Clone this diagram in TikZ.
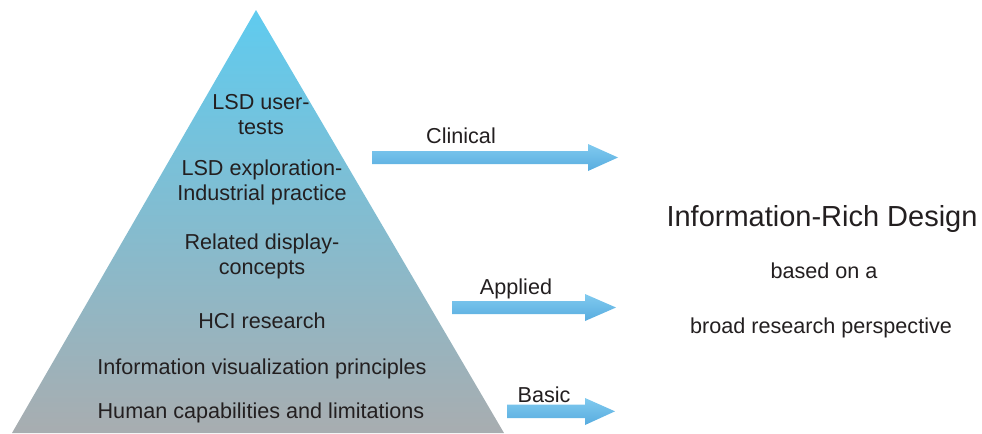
\documentclass[tikz,border=0pt]{standalone}
\usepackage{fontspec}
\setmainfont{Liberation Sans}
\definecolor{pyrtop}{HTML}{5FCBEF}
\definecolor{pyrbot}{HTML}{A8ADB0}
\definecolor{arrtop}{HTML}{80CAEF}
\definecolor{arrbot}{HTML}{58ACDF}
\definecolor{txt}{HTML}{231F20}
\tikzset{
  lbl/.style={font=\fontsize{12.3}{14.2}\selectfont, text=txt, align=center, inner sep=0pt},
  blockarrow/.style={top color=arrtop, bottom color=arrbot, draw=none}
}
\begin{document}
\begin{tikzpicture}[x=0.02cm,y=-0.02cm]
	\useasboundingbox (0,0) rectangle (982,433);
	% pyramid
	\shade[top color=pyrtop,bottom color=pyrbot] (256,10)--(504,433)--(12,433)--cycle;
	\node[lbl] (usertests) at (261,115) {LSD user-\\tests};
	\node[lbl] (explore) at (262,182) {LSD exploration-\\Industrial practice};
	\node[lbl] (related) at (262,256) {Related display-\\concepts};
	\node[lbl] (hci) at (262,321) {HCI research};
	\node[lbl] (infovis) at (262,369) {Information visualization principles};
	\node[lbl] (human) at (261,413) {Human capabilities and limitations};
	% arrows out of the pyramid
	\shade[blockarrow] (372,151)--(588,151)--(588,144)--(618,157.5)--(588,171)--(588,164)--(372,164)--cycle;
	\shade[blockarrow] (452,301)--(585,301)--(585,294)--(616,307.5)--(585,321)--(585,314)--(452,314)--cycle;
	\shade[blockarrow] (507,404.5)--(585,404.5)--(585,398)--(615,411.3)--(585,425)--(585,418)--(507,418)--cycle;
	\node[lbl] (clinical) at (461,136) {Clinical};
	\node[lbl] (applied) at (516,289) {Applied};
	\node[lbl] (basic) at (544,395) {Basic};
	% right hand text
	\node[lbl,font=\fontsize{16.5}{19}\selectfont] (ird) at (822,219) {Information-Rich Design};
	\node[lbl] (basedon) at (824,271) {based on a};
	\node[lbl] (broad) at (821,328) {broad research perspective};
\end{tikzpicture}
\end{document}
